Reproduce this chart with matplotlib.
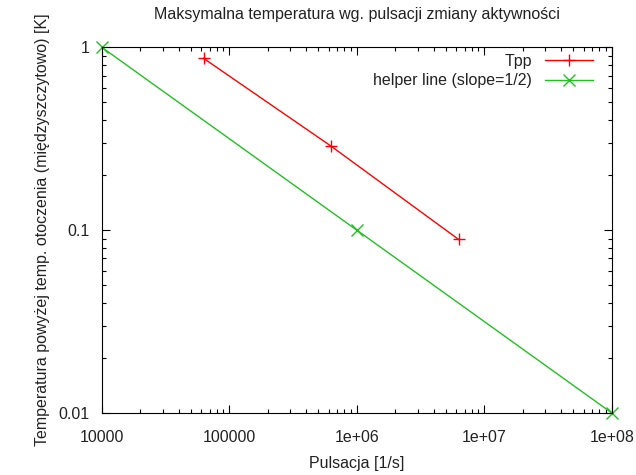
import numpy as np
import matplotlib
matplotlib.use('Agg')
import matplotlib.pyplot as plt
from matplotlib.ticker import FixedLocator, FixedFormatter, LogLocator, NullFormatter

plt.rcParams['font.family'] = ['Liberation Sans', 'DejaVu Sans']

# data
tpp_omega = [62832, 628318, 6283185]
tpp_temp = [0.87, 0.288, 0.089]
helper_omega = [1e4, 1e6, 1e8]
helper_temp = [1.0, 0.1, 0.01]

x_ticks = [1e4, 1e5, 1e6, 1e7, 1e8]
x_labels = ['10000', '100000', '1e+06', '1e+07', '1e+08']
y_ticks = [0.01, 0.1, 1]
y_labels = ['0.01', '0.1', '1']

fs = 11.5
fig = plt.figure(figsize=(6.36, 4.75), dpi=100)
ax = fig.add_axes([0.160, 0.1305, 0.802, 0.770])

ax.plot(tpp_omega, tpp_temp, c='#ff0000', lw=1, marker='+', ms=9, mew=1, label='Tpp',
        clip_on=False)
ax.plot(helper_omega, helper_temp, c='#22c022', lw=1, marker='x', ms=9, mew=1,
        label='helper line (slope=1/2)', clip_on=False)

ax.set_xscale('log')
ax.set_yscale('log')
ax.set_xlim(1e4, 1e8)
ax.set_ylim(0.01, 1)

ax.xaxis.set_major_locator(FixedLocator(x_ticks))
ax.xaxis.set_major_formatter(FixedFormatter(x_labels))
ax.yaxis.set_major_locator(FixedLocator(y_ticks))
ax.yaxis.set_major_formatter(FixedFormatter(y_labels))
for a in (ax.xaxis, ax.yaxis):
    a.set_minor_locator(LogLocator(base=10, subs=np.arange(2, 10)))
    a.set_minor_formatter(NullFormatter())

ax.tick_params(which='both', direction='in', top=True, right=True, colors='black',
               labelcolor='#222222', labelsize=fs, width=0.8)
ax.tick_params(which='major', length=6)
ax.tick_params(axis='x', which='major', pad=12)
ax.tick_params(axis='y', which='major', pad=9)
ax.tick_params(which='minor', length=3)
for s in ax.spines.values():
    s.set_linewidth(0.8)

ax.set_xlabel('Pulsacja [1/s]', fontsize=fs, color='#222222', labelpad=8)
ax.set_ylabel('Temperatura powyżej temp. otoczenia (międzyszczytowo) [K]', fontsize=fs,
              color='#222222', labelpad=6)
ax.set_title('Maksymalna temperatura wg. pulsacji zmiany aktywności', fontsize=fs,
             color='#222222', pad=20)

ax.legend(loc='upper right', bbox_to_anchor=(0.975, 1.0), frameon=False,
          markerfirst=False, fontsize=fs, handlelength=3.0, borderaxespad=0,
          labelspacing=0.3, labelcolor='#222222')

plt.savefig('out.png', dpi=100)
